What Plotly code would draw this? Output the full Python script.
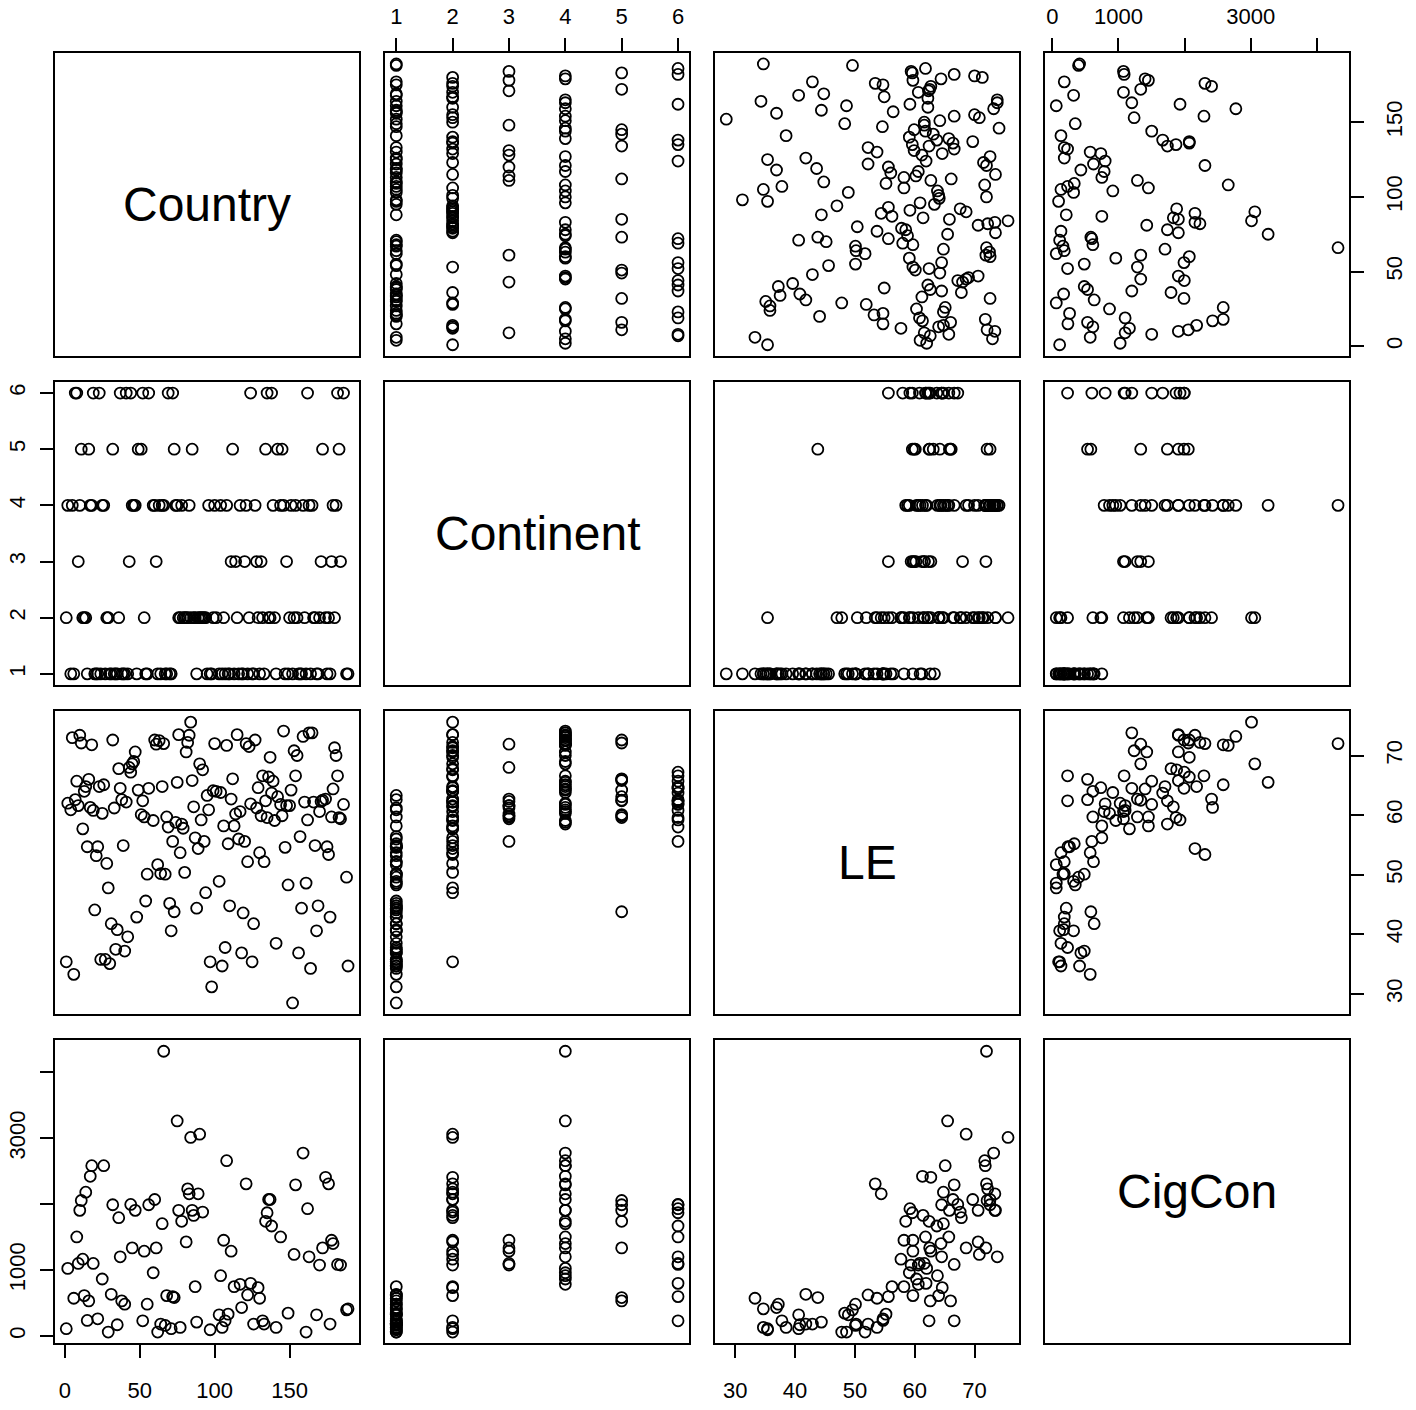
import plotly.graph_objects as go

# Scatterplot matrix of country-level data: country code, continent code,
# life expectancy (LE) and cigarette consumption (CigCon, missing where None).

country = [
    1, 2, 4, 5, 6, 7, 8, 9, 10, 11, 12, 13, 14, 15, 16, 17, 18, 19, 20, 21,
    22, 23, 24, 25, 26, 27, 28, 29, 30, 31, 32, 33, 34, 35, 36, 37, 38, 39, 40, 41,
    42, 43, 44, 45, 46, 47, 48, 49, 51, 52, 53, 54, 55, 56, 59, 60, 61, 62, 63, 64,
    65, 66, 67, 68, 69, 70, 71, 72, 73, 74, 75, 76, 77, 78, 79, 80, 81, 82, 83, 84,
    85, 86, 87, 88, 89, 90, 91, 92, 93, 94, 95, 96, 97, 98, 99, 100, 101, 103, 104, 105,
    106, 107, 108, 109, 110, 111, 112, 113, 114, 115, 116, 117, 118, 119, 120, 121, 122, 123, 124, 125,
    126, 127, 128, 129, 130, 131, 132, 133, 134, 135, 136, 137, 138, 139, 140, 141, 142, 144, 145, 146,
    147, 148, 149, 150, 151, 152, 153, 154, 155, 156, 157, 158, 159, 160, 161, 162, 163, 164, 165, 166,
    167, 168, 169, 170, 171, 172, 174, 175, 176, 177, 178, 179, 180, 181, 182, 183, 184, 186, 188, 189,
]

continent = [
    2, 4, 1, 4, 1, 6, 6, 3, 4, 5, 2, 2, 2, 1, 5, 4, 4, 6, 1, 1,
    1, 6, 1, 4, 4, 1, 2, 2, 1, 1, 5, 1, 1, 1, 2, 6, 1, 1, 1, 6,
    1, 3, 6, 4, 4, 4, 1, 5, 5, 6, 2, 1, 1, 6, 4, 4, 3, 1, 4, 1,
    4, 4, 1, 1, 6, 1, 1, 6, 5, 4, 4, 2, 2, 4, 2, 2, 2, 2, 4, 2,
    5, 2, 2, 1, 2, 2, 2, 2, 2, 2, 1, 4, 1, 1, 2, 4, 2, 1, 4, 1,
    2, 1, 4, 1, 1, 3, 5, 1, 3, 2, 1, 4, 1, 1, 3, 4, 1, 2, 6, 1,
    1, 4, 3, 2, 1, 3, 2, 1, 5, 6, 2, 2, 6, 4, 2, 1, 5, 4, 5, 4,
    1, 3, 1, 2, 4, 1, 2, 4, 2, 1, 1, 1, 4, 2, 1, 6, 4, 1, 4, 2,
    2, 1, 1, 2, 3, 5, 2, 1, 2, 1, 3, 4, 2, 4, 6, 5, 3, 6, 1, 1,
]

le = [
    35.4, 62.0, 60.9, 73.0, 33.3, 62.6, 65.7, 61.6, 73.4, 72.1,
    57.7, 64.0, 64.8, 54.7, 66.0, 61.3, 71.8, 60.8, 44.1, 53.2,
    54.7, 64.8, 35.8, 60.3, 65.1, 35.8, 51.9, 47.8, 35.1, 41.8,
    72.6, 61.2, 37.5, 40.8, 67.8, 64.5, 62.6, 54.9, 37.2, 62.2,
    39.6, 68.0, 67.2, 68.6, 69.0, 70.6, 42.9, 64.2, 60.1, 62.4,
    59.7, 45.6, 50.1, 64.5, 59.1, 72.6, 71.9, 51.7, 72.5, 50.2,
    64.8, 72.0, 50.1, 59.7, 58.0, 45.2, 40.6, 55.6, 43.8, 58.8,
    65.5, 73.5, 53.7, 58.5, 57.8, 50.4, 70.6, 72.2, 73.4, 75.6,
    65.8, 61.4, 56.2, 44.4, 54.4, 68.6, 59.2, 67.6, 55.6, 47.0,
    63.3, 60.9, 35.4, 31.2, 64.1, 72.0, 64.0, 48.9, 63.8, 34.7,
    58.2, 37.8, 71.7, 55.2, 44.8, 62.7, 66.1, 58.2, 60.2, 73.5,
    56.0, 60.6, 36.9, 43.6, 55.6, 72.0, 52.2, 71.5, 61.9, 35.4,
    41.8, 72.6, 61.2, 64.6, 53.7, 59.9, 66.6, 52.2, 62.4, 59.6,
    66.4, 69.7, 63.7, 65.7, 59.1, 38.5, 63.1, 61.8, 59.9, 74.1,
    54.6, 61.6, 48.3, 61.6, 64.2, 28.5, 70.8, 66.6, 70.0, 36.9,
    56.4, 44.4, 73.2, 62.2, 48.6, 59.2, 73.8, 34.3, 73.8, 62.2,
    54.9, 40.6, 44.8, 60.6, 62.3, 62.5, 62.7, 54.7, 53.4, 42.9,
    59.7, 64.4, 71.3, 70.0, 66.6, 59.6, 59.4, 61.8, 49.6, 34.7,
]

cigcon = [
    111, 1026, None, None, 573, None, 1503, 1101, 1906, 2056,
    1166, 613, 2182, 236, 533, 2423, 2584, 1101, None, None,
    261, None, None, 865, 2584, None, None, 60, None, 633,
    1991, None, None, 171, 1795, 1202, 533, None, 483, None,
    None, None, 1996, 1337, None, 1906, None, None, None, 231,
    1287, None, 483, 1991, 960, 2071, 1337, 60, None, 181,
    1704, 4320, 161, 613, None, None, 111, 598, 583, None,
    3263, 1906, 131, 1740, None, None, 1428, 2232, 2157, 3012,
    1906, 1830, 749, 211, 2157, 3062, None, 1880, None, None,
    None, None, 95, None, None, None, None, 322, 915, 131,
    1453, 231, 2660, 332, None, 1287, None, 749, None, None,
    None, 784, 432, None, None, 2308, 623, None, 799, None,
    181, None, None, 734, 573, None, 231, 181, 1740, 1870,
    2071, 2071, 1669, None, None, 131, None, 1503, None, None,
    None, None, 347, None, None, None, 1237, 2293, None, None,
    None, None, 2775, None, 60, 1931, 1202, None, None, None,
    None, 322, None, 1076, None, 1337, 2408, None, 2308, 181,
    1453, 1403, None, None, 1086, None, 1076, None, 397, 412,
]

var_names = ["Country", "Continent", "LE", "CigCon"]
columns = [country, continent, le, cigcon]

tick_vals = [
    [0, 50, 100, 150],
    [1, 2, 3, 4, 5, 6],
    [30, 40, 50, 60, 70],
    [0, 1000, 2000, 3000, 4000],
]
tick_text = [
    ["0", "50", "100", "150"],
    ["1", "2", "3", "4", "5", "6"],
    ["30", "40", "50", "60", "70"],
    ["0", "1000", "", "3000", ""],
]

W, H = 1416, 1410
col_left = [55.0, 385.0, 715.0, 1045.0]
row_top = [52.7, 381.8, 710.9, 1040.0]
panel_w, panel_h = 304.3, 303.3

FONT = "Liberation Sans, Arial, sans-serif"
TICK_FONT = dict(family=FONT, size=22, color="black")


def padded_range(vals):
    v = [x for x in vals if x is not None]
    lo, hi = min(v), max(v)
    pad = 0.04 * (hi - lo)
    return [lo - pad, hi + pad]


ranges = [padded_range(v) for v in columns]

fig = go.Figure()
layout = dict(
    width=W,
    height=H,
    autosize=False,
    margin=dict(l=0, r=0, t=0, b=0),
    paper_bgcolor="white",
    plot_bgcolor="white",
    showlegend=False,
    annotations=[],
)

for r in range(4):
    for c in range(4):
        k = r * 4 + c + 1
        xa = "x" if k == 1 else f"x{k}"
        ya = "y" if k == 1 else f"y{k}"
        xname = "xaxis" if k == 1 else f"xaxis{k}"
        yname = "yaxis" if k == 1 else f"yaxis{k}"

        x0 = col_left[c] / W
        x1 = (col_left[c] + panel_w) / W
        y1 = 1 - row_top[r] / H
        y0 = 1 - (row_top[r] + panel_h) / H

        if r == c:
            fig.add_trace(go.Scatter(x=[], y=[], xaxis=xa, yaxis=ya,
                                     mode="markers", hoverinfo="skip"))
            layout["annotations"].append(dict(
                x=(x0 + x1) / 2, y=(y0 + y1) / 2, xref="paper", yref="paper",
                text=var_names[r], showarrow=False,
                font=dict(family=FONT, size=48, color="black"),
                xanchor="center", yanchor="middle",
            ))
        else:
            xs, ys = [], []
            for a, b in zip(columns[c], columns[r]):
                if a is not None and b is not None:
                    xs.append(a)
                    ys.append(b)
            fig.add_trace(go.Scatter(
                x=xs, y=ys, xaxis=xa, yaxis=ya, mode="markers",
                marker=dict(symbol="circle-open", size=11, color="black",
                            line=dict(width=1.8, color="black")),
                hoverinfo="skip",
            ))

        # x axis: labelled at the bottom for columns 1 and 3, on top for 2 and 4
        x_axis = dict(
            domain=[x0, x1], anchor=ya, range=ranges[c],
            showgrid=False, zeroline=False,
            showline=True, mirror=True, linecolor="black", linewidth=1.7,
            tickfont=TICK_FONT, tickcolor="black", tickwidth=1.6,
        )
        bottom_lab = (r == 3 and c in (0, 2))
        top_lab = (r == 0 and c in (1, 3))
        if bottom_lab or top_lab:
            x_axis.update(
                side="bottom" if bottom_lab else "top",
                tickmode="array", tickvals=tick_vals[c], ticktext=tick_text[c],
                ticks="outside", ticklen=13, showticklabels=True,
                ticklabelstandoff=13 if bottom_lab else 5,
            )
        else:
            x_axis.update(ticks="", showticklabels=False)

        # y axis: labelled on the left for rows 2 and 4, on the right for 1 and 3
        y_axis = dict(
            domain=[y0, y1], anchor=xa, range=ranges[r],
            showgrid=False, zeroline=False,
            showline=True, mirror=True, linecolor="black", linewidth=1.7,
            tickfont=TICK_FONT, tickcolor="black", tickwidth=1.6,
        )
        left_lab = (c == 0 and r in (1, 3))
        right_lab = (c == 3 and r in (0, 2))
        if left_lab or right_lab:
            y_axis.update(
                side="left" if left_lab else "right",
                tickmode="array", tickvals=tick_vals[r], ticktext=tick_text[r],
                ticks="outside", ticklen=13, showticklabels=True,
                tickangle=-90,
                ticklabelstandoff=6 if left_lab else 11,
            )
        else:
            y_axis.update(ticks="", showticklabels=False)

        layout[xname] = x_axis
        layout[yname] = y_axis

fig.update_layout(**layout)
fig.write_html("out.html")
